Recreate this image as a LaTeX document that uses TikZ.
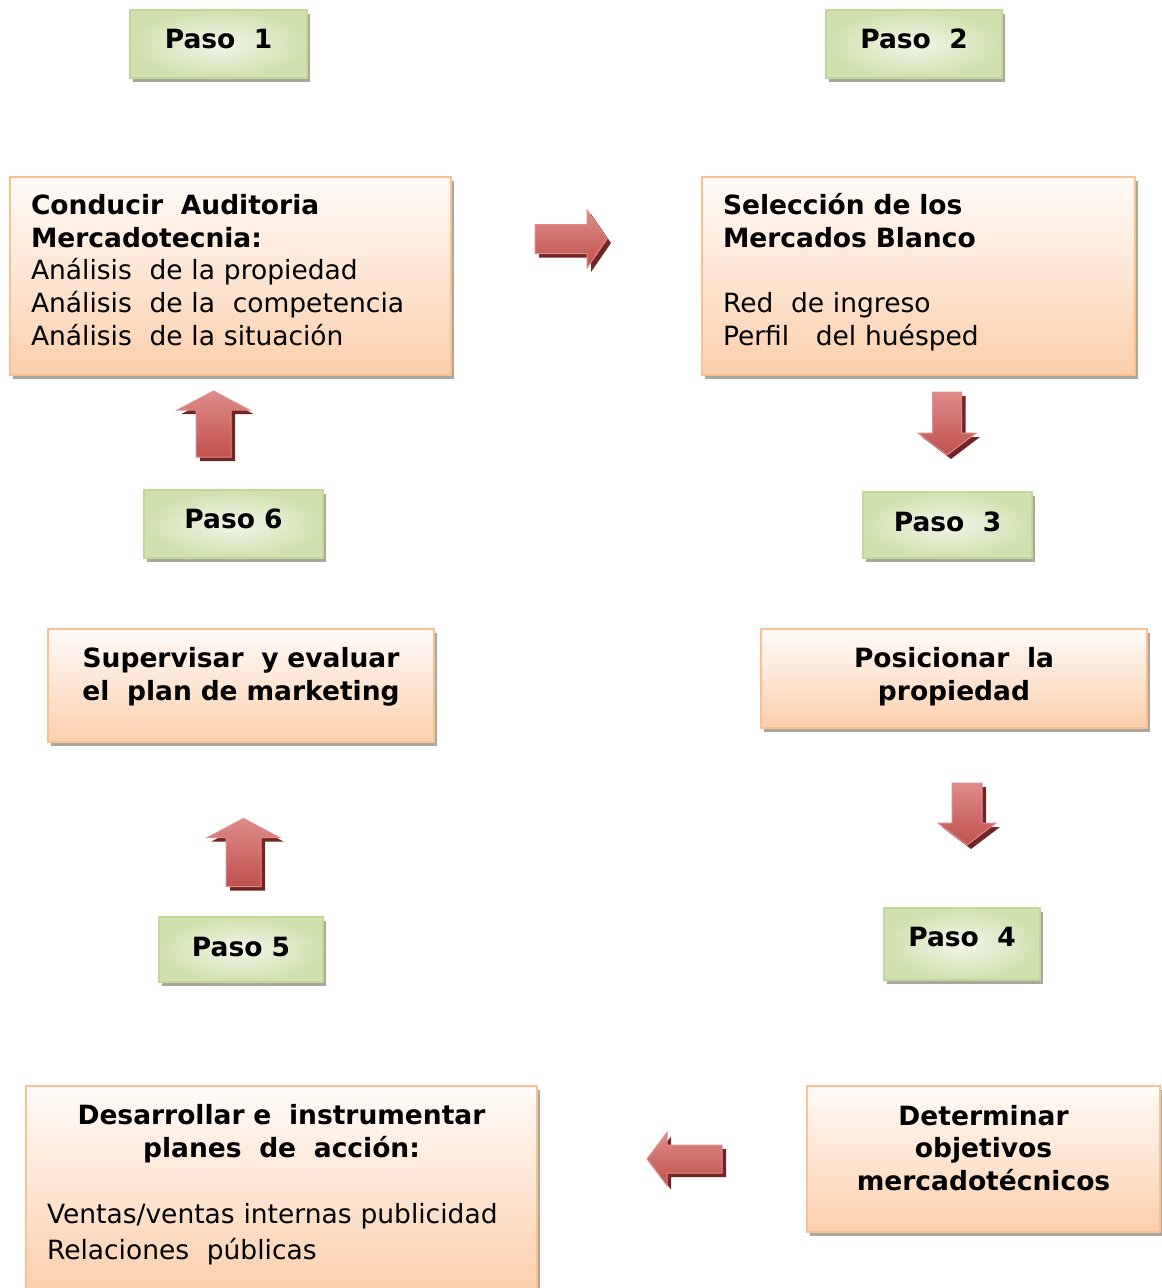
\documentclass[tikz,border=0pt]{standalone}
\usepackage{fontspec}
\setmainfont{DejaVu Sans}
\usetikzlibrary{shadows}
\definecolor{PasoBorde}{RGB}{195,214,155}
\definecolor{PasoCentro}{RGB}{242,246,233}
\definecolor{PasoFondo}{RGB}{208,224,174}
\definecolor{CajaBorde}{RGB}{250,192,144}
\definecolor{CajaArriba}{RGB}{255,251,248}
\definecolor{CajaAbajo}{RGB}{251,207,172}
\definecolor{FlechaClara}{RGB}{222,140,138}
\definecolor{FlechaRoja}{RGB}{192,80,77}
\definecolor{FlechaSombra}{RGB}{112,38,36}
\definecolor{SombraGris}{RGB}{168,168,158}

\newcommand{\tam}{\fontsize{26.5}{32.75}\selectfont}

% flecha gruesa: centro, angulo, largo, cuerpo, cabeza, punta
\newcommand{\flecha}[6]{%
  \fill[FlechaSombra, shift={#1}, shift={(4,4)}, rotate=#2]
    ({-#3/2},{-#4/2}) -- ({#3/2-#6},{-#4/2}) -- ({#3/2-#6},{-#5/2}) -- ({#3/2},0)
    -- ({#3/2-#6},{#5/2}) -- ({#3/2-#6},{#4/2}) -- ({-#3/2},{#4/2}) -- cycle;
  \shade[draw=FlechaClara, line width=1pt, top color=FlechaClara, bottom color=FlechaRoja,
         shift={#1}, rotate=#2]
    ({-#3/2},{-#4/2}) -- ({#3/2-#6},{-#4/2}) -- ({#3/2-#6},{-#5/2}) -- ({#3/2},0)
    -- ({#3/2-#6},{#5/2}) -- ({#3/2-#6},{#4/2}) -- ({-#3/2},{#4/2}) -- cycle;
}

\tikzset{
  paso/.style={draw=PasoBorde, line width=1.5pt, inner color=PasoCentro, outer color=PasoFondo,
    font=\tam\bfseries,
    drop shadow={shadow xshift=3pt, shadow yshift=-4pt, fill=SombraGris, opacity=1}},
  caja/.style={draw=CajaBorde, line width=1.5pt, top color=CajaArriba, bottom color=CajaAbajo,
    inner xsep=21pt,
    drop shadow={shadow xshift=3pt, shadow yshift=-4pt, fill=SombraGris, opacity=1}},
  subir/.style={execute at end node={\vspace{#1}}},
}

\begin{document}
\begin{tikzpicture}[x=1pt,y=-1pt,font=\tam]
\useasboundingbox (0,0) rectangle (1162,1288);

% pasos
\node[paso, minimum width=177pt, minimum height=68pt, text depth=10pt] (paso1) at (218.5,44) {Paso~ 1};
\node[paso, minimum width=176pt, minimum height=68pt, text depth=10pt] (paso2) at (914,44) {Paso~ 2};
\node[paso, minimum width=169pt, minimum height=66pt, text depth=6pt] (paso3) at (947.5,525) {Paso~ 3};
\node[paso, minimum width=156pt, minimum height=72pt, text depth=14pt] (paso4) at (962,944) {Paso~ 4};
\node[paso, minimum width=164pt, minimum height=65pt, text depth=6pt] (paso5) at (241,949.5) {Paso 5};
\node[paso, minimum width=179pt, minimum height=68pt, text depth=10pt] (paso6) at (233.5,524) {Paso 6};

% cajas
\node[caja, minimum width=441pt, minimum height=198pt, text width=399pt, align=left, subir=12pt]
  (auditoria) at (230.5,276)
  {\textbf{Conducir~ Auditoria}\\ \textbf{Mercadotecnia:}\\
   Análisis~ de la propiedad\\ Análisis~ de la~ competencia\\ Análisis~ de la situación};
\node[caja, minimum width=433pt, minimum height=198pt, text width=391pt, align=left, subir=8pt]
  (seleccion) at (918.5,276)
  {\textbf{Selección de los}\\ \textbf{Mercados Blanco}\\[32.75pt]
   Red~ de ingreso\\ Perfil~~ del huésped};
\node[caja, minimum width=386pt, minimum height=99pt, text width=344pt, align=center,
  font=\tam\bfseries, subir=4pt]
  (posicionar) at (954,678.5) {Posicionar~ la\\ propiedad};
\node[caja, minimum width=353pt, minimum height=146pt, text width=311pt, align=center,
  font=\tam\bfseries, subir=22pt]
  (objetivos) at (983.5,1159) {Determinar\\ objetivos\\ mercadotécnicos};
\node[caja, minimum width=511pt, minimum height=208pt, text width=469pt, align=center, subir=10pt]
  (planes) at (281.5,1190)
  {\textbf{Desarrollar e~ instrumentar}\\ \textbf{planes~ de~ acción:}\\[32.75pt]
   \makebox[469pt][l]{Ventas/ventas internas publicidad}\\[4pt]
   \makebox[469pt][l]{Relaciones~ públicas}};
\node[caja, minimum width=386pt, minimum height=113pt, text width=344pt, align=center,
  font=\tam\bfseries, subir=18pt]
  (supervisar) at (241,685.5) {Supervisar~ y evaluar\\ el~ plan de marketing};

% flechas
\flecha{(571,239)}{0}{72}{29}{58}{20}
\flecha{(947,423.5)}{-90}{63}{29}{58}{22}
\flecha{(967,814)}{-90}{62}{30}{58}{22}
\flecha{(684.5,1159)}{180}{75}{28}{53}{20}
\flecha{(243.5,852.5)}{90}{68}{35}{72}{19}
\flecha{(213.5,424)}{90}{66}{35}{72}{19}

\end{tikzpicture}
\end{document}
